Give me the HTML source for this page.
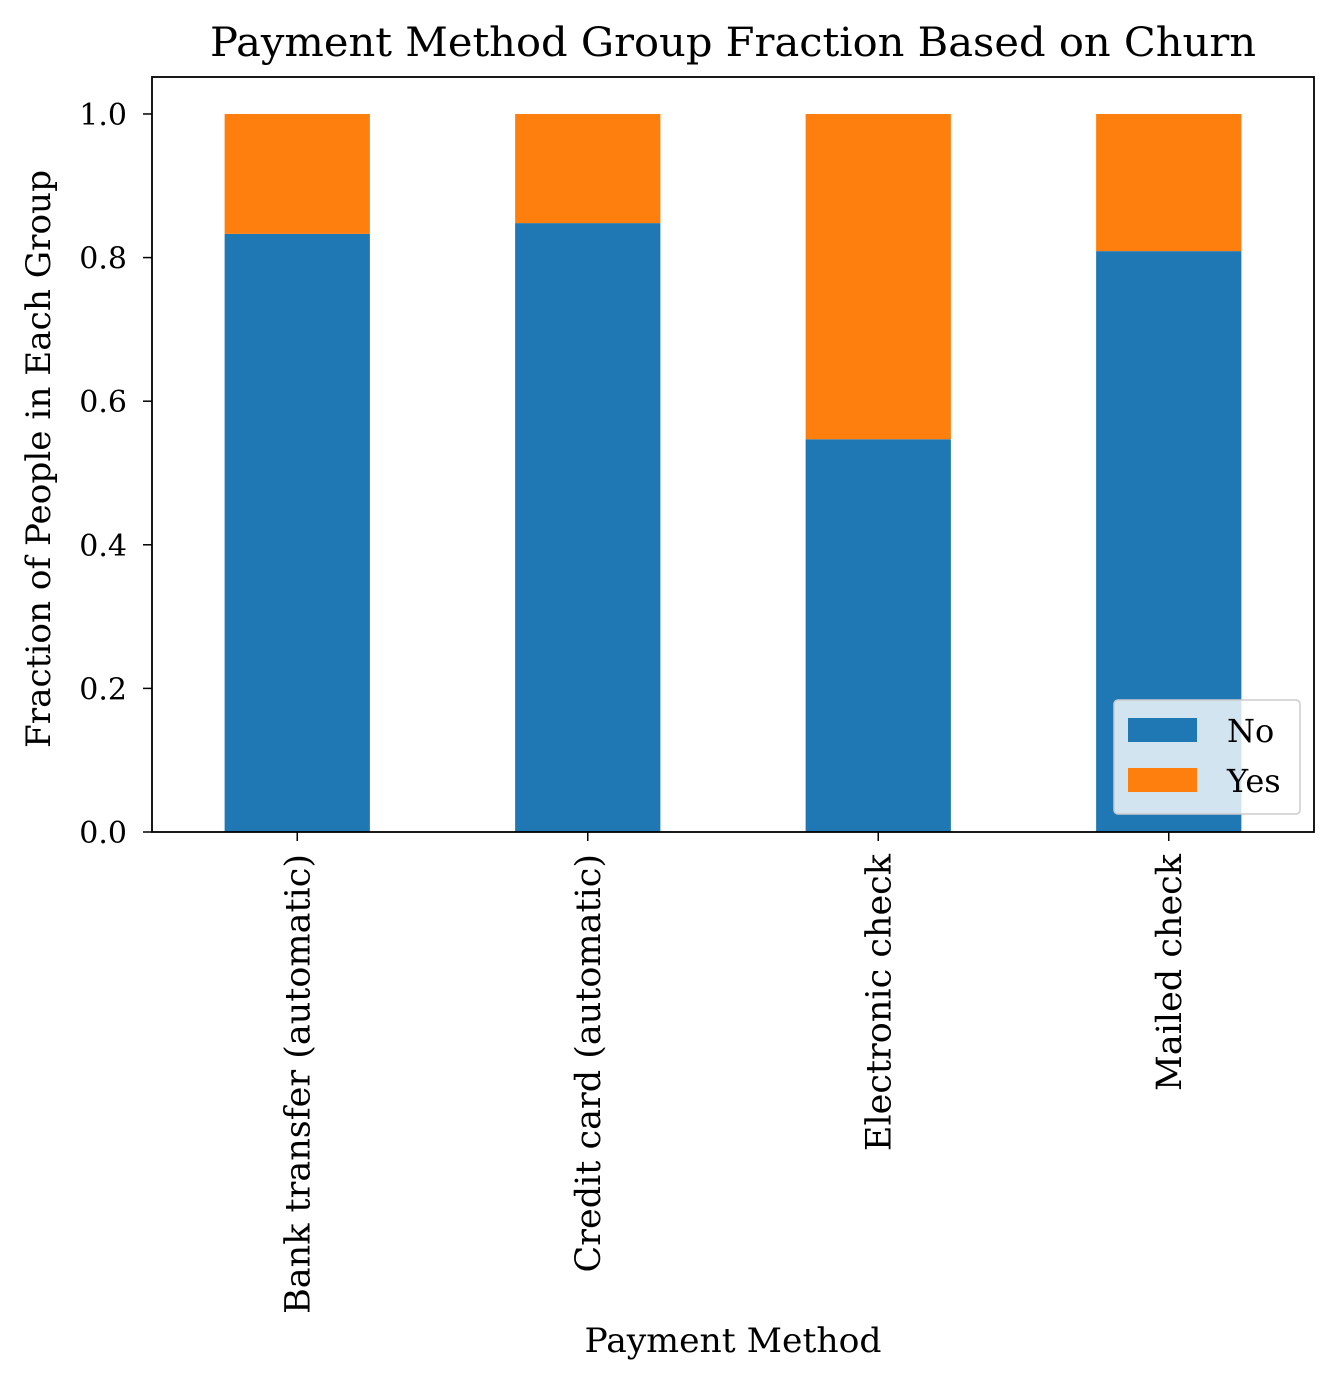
<!DOCTYPE html>
<html><head><meta charset="utf-8"><style>
html,body{margin:0;padding:0;background:#fff;}
svg{display:block;font-family:"DejaVu Serif","Liberation Serif",serif;}
</style></head><body>
<svg id="chart" width="1339" height="1386" viewBox="0 0 1339 1386">
<rect x="0" y="0" width="1339" height="1386" fill="#fff"/>
<g id="plot"></g>
<text x="733" y="56" font-size="40" text-anchor="middle" textLength="1046" lengthAdjust="spacingAndGlyphs">Payment Method Group Fraction Based on Churn</text>
<text x="733" y="1352" font-size="34" text-anchor="middle" textLength="297" lengthAdjust="spacingAndGlyphs">Payment Method</text>
<text transform="translate(50,459) rotate(-90)" font-size="34" text-anchor="middle" textLength="578" lengthAdjust="spacingAndGlyphs">Fraction of People in Each Group</text>
</svg>
<script>
const categories = ["Bank transfer (automatic)","Credit card (automatic)","Electronic check","Mailed check"];
const noValues = [0.833, 0.848, 0.547, 0.809];
const yesValues = [0.167, 0.152, 0.453, 0.191];
const yTicks = [0.0, 0.2, 0.4, 0.6, 0.8, 1.0];

const L=152,R=1314,T=77,B=832,YMAX=1.0515;
const NS="http://www.w3.org/2000/svg";
const g=document.getElementById('plot');
const xs=i=>L+(i+0.5)*(R-L)/categories.length;
const ys=v=>B-v/YMAX*(B-T);
const bw=0.5*(R-L)/categories.length;
function mk(t,a){const e=document.createElementNS(NS,t);for(const k in a)e.setAttribute(k,a[k]);g.appendChild(e);return e;}
categories.forEach((c,i)=>{
  let r=mk('rect',{x:xs(i)-bw/2,y:ys(noValues[i]),width:bw,height:ys(0)-ys(noValues[i]),fill:'#1f77b4'});
  
  
  let r2=mk('rect',{x:xs(i)-bw/2,y:ys(noValues[i]+yesValues[i]),width:bw,height:ys(noValues[i])-ys(noValues[i]+yesValues[i]),fill:'#ff7f0e'});
  
  
  mk('line',{x1:xs(i),x2:xs(i),y1:B,y2:B+9,stroke:'#000','stroke-width':1.5});
  let t=mk('text',{transform:`translate(${xs(i)+12},${B+22}) rotate(-90)`,'font-size':35,'text-anchor':'end'});
  t.textContent=c;
  
  
});
yTicks.forEach(v=>{
  mk('line',{x1:L-9,x2:L,y1:ys(v),y2:ys(v),stroke:'#000','stroke-width':1.5});
  let t=mk('text',{x:L-25,y:ys(v)+11,'font-size':30,'text-anchor':'end'});
  t.textContent=v.toFixed(1);
  
  
});
let f=mk('rect',{x:L,y:T,width:R-L,height:B-T,fill:'none',stroke:'#000','stroke-width':1.8});


let lg=mk('g',{});


const lb=document.createElementNS(NS,'rect');
Object.entries({x:1114,y:700,width:186,height:114,rx:4,fill:'#fff','fill-opacity':0.8,stroke:'#ccc','stroke-width':1.5}).forEach(([k,v])=>lb.setAttribute(k,v));
lg.appendChild(lb);
[["No","#1f77b4",718],["Yes","#ff7f0e",768]].forEach(([n,c,y])=>{
  const p=document.createElementNS(NS,'rect');
  Object.entries({x:1128,y:y,width:69,height:24,fill:c}).forEach(([k,v])=>p.setAttribute(k,v));
  
  
  lg.appendChild(p);
  const t=document.createElementNS(NS,'text');
  Object.entries({x:1227,y:y+24,'font-size':32}).forEach(([k,v])=>t.setAttribute(k,v));
  t.textContent=n;
  
  
  lg.appendChild(t);
});
</script>
</body></html>
